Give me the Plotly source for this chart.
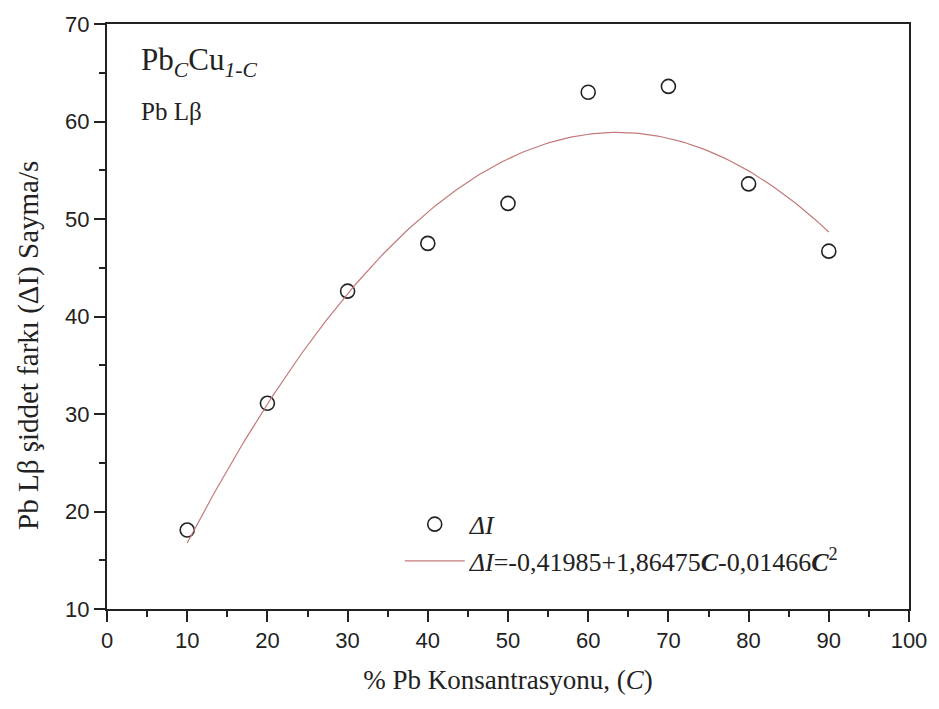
import numpy as np
import plotly.graph_objects as go

# Data
conc = [10, 20, 30, 40, 50, 60, 70, 80, 90]
delta_i = [18.1, 31.1, 42.6, 47.5, 51.6, 63.0, 63.6, 53.6, 46.7]

# Fit coefficients as printed in the legend: a0 + a1*C + a2*C^2
fit_coeffs = [-0.41985, 1.86475, -0.01466]

x_ticks = [0, 10, 20, 30, 40, 50, 60, 70, 80, 90, 100]
y_ticks = [10, 20, 30, 40, 50, 60, 70]

c_fit = np.linspace(min(conc), max(conc), 200)
i_fit = np.polyval(fit_coeffs[::-1], c_fit)

serif = "Liberation Serif, Times New Roman, serif"
sans = "Liberation Sans, Arial, sans-serif"

fig = go.Figure()
fig.add_trace(go.Scatter(
    x=conc, y=delta_i, mode="markers",
    marker=dict(symbol="circle-open", size=14, color="#222222", line=dict(width=1.6, color="#222222")),
    name="<i>ΔI</i>",
))
fig.add_trace(go.Scatter(
    x=c_fit, y=i_fit, mode="lines",
    line=dict(color="#c47a7a", width=1.2),
    name="<i>ΔI</i>=-0,41985+1,86475<b><i>C</i></b>-0,01466<b><i>C</i></b><sup>2</sup>",
))

fig.update_layout(
    width=939, height=709,
    margin=dict(l=107, r=27, t=18, b=100),
    paper_bgcolor="white", plot_bgcolor="white",
    showlegend=True,
    legend=dict(
        x=0.365, y=0.185, xanchor="left", yanchor="top",
        bgcolor="rgba(0,0,0,0)", font=dict(family=serif, size=26, color="#222222"),
        itemwidth=60, tracegroupgap=0,
    ),
    xaxis=dict(
        range=[0, 100], tickvals=x_ticks, ticks="outside", ticklen=11, tickwidth=1.5,
        tickcolor="#222222",
        minor=dict(dtick=5, ticks="outside", ticklen=6, tickwidth=1.5, tickcolor="#222222"),
        showline=True, linecolor="#222222", linewidth=2, mirror=True,
        showgrid=False, zeroline=False,
        tickfont=dict(family=sans, size=22, color="#222222"),
        title=dict(text="% Pb Konsantrasyonu, (<i>C</i>)", font=dict(family=serif, size=27, color="#222222"), standoff=18),
    ),
    yaxis=dict(
        range=[10, 70], tickvals=y_ticks, ticks="outside", ticklen=11, tickwidth=1.5,
        tickcolor="#222222",
        minor=dict(dtick=5, ticks="outside", ticklen=6, tickwidth=1.5, tickcolor="#222222"),
        showline=True, linecolor="#222222", linewidth=2, mirror=True,
        showgrid=False, zeroline=False,
        tickfont=dict(family=sans, size=22, color="#222222"),
    ),
    annotations=[
        dict(text="Pb Lβ şiddet farkı (ΔI) Sayma/s", xref="paper", yref="paper",
             x=-0.097, y=0.45, xanchor="center", yanchor="middle", textangle=-90,
             showarrow=False, font=dict(family=serif, size=29, color="#222222")),
        dict(text="Pb<sub><i>C</i></sub>Cu<sub><i>1-C</i></sub>", xref="paper", yref="paper",
             x=0.04, y=0.935, xanchor="left", yanchor="middle", showarrow=False,
             font=dict(family=serif, size=31, color="#222222")),
        dict(text="Pb Lβ", xref="paper", yref="paper",
             x=0.04, y=0.85, xanchor="left", yanchor="middle", showarrow=False,
             font=dict(family=serif, size=25, color="#222222")),
    ],
)

fig.write_html("out.html")
